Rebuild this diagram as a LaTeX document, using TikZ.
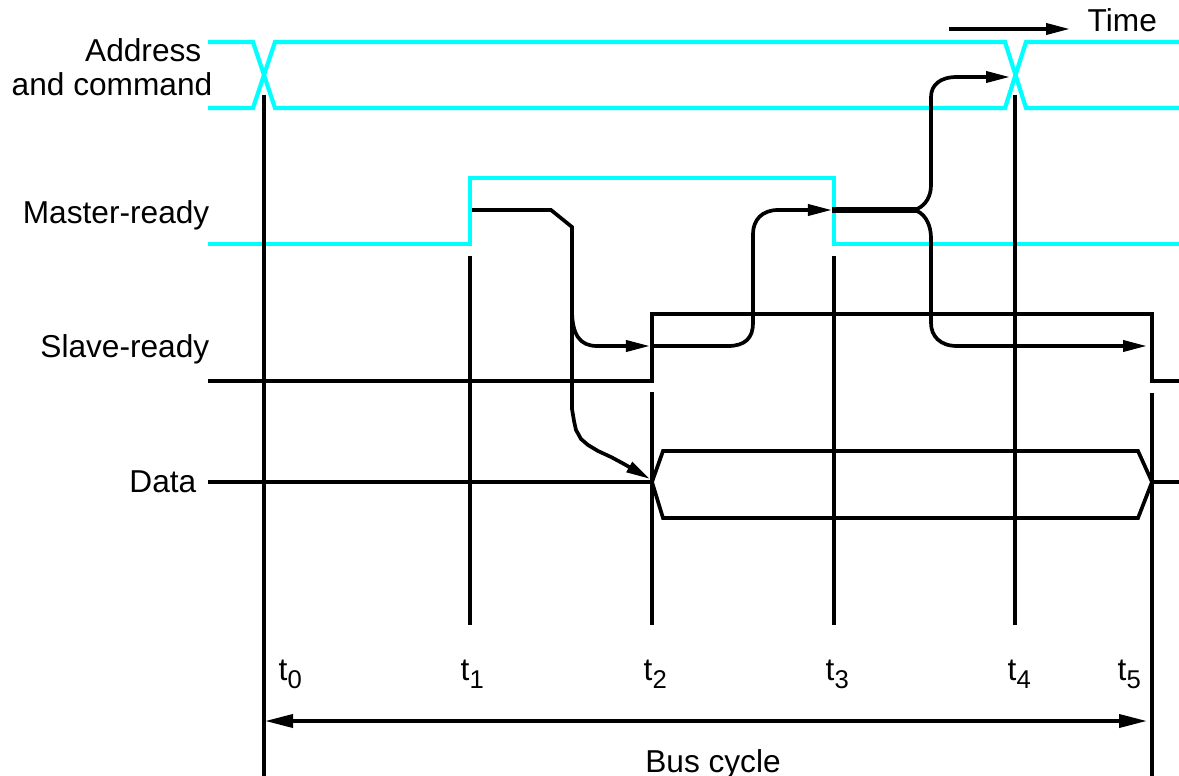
\documentclass[tikz,border=0pt]{standalone}
\usepackage{fontspec}
\setmainfont{Liberation Sans}
\usepackage{tikz}
\usetikzlibrary{arrows.meta}

\definecolor{sigcyan}{RGB}{0,255,255}
\newcommand{\tlabel}[1]{t\raisebox{-2.3pt}{\fontsize{7.3}{8}\selectfont #1}}

\begin{document}
\begin{tikzpicture}[x=0.01cm, y=-0.01cm,
    font=\fontsize{9}{10}\selectfont,
    every node/.style={inner sep=0pt},
    bus/.style={sigcyan, line width=1.2pt},
    wire/.style={black, line width=1.05pt},
    cause/.style={wire, -{Triangle[length=2.4mm,width=1.1mm]}},
    span/.style={wire, {Triangle[length=2.8mm,width=1.3mm]}-{Triangle[length=2.8mm,width=1.3mm]}}]

        \useasboundingbox (0,0) rectangle (1179,776);

        %Signal names
        \node [anchor=base east] (addr) at (202,62) {Address};
        \node [anchor=base east] (cmd) at (213,96) {and command};
        \node [anchor=base east] (mready) at (210,223) {Master-ready};
        \node [anchor=base east] (sready) at (210,357) {Slave-ready};
        \node [anchor=base east] (data) at (197,492) {Data};
        %Time
        \node [anchor=base west] (time) at (1087,32) {Time};
        \coordinate (tfrom) at (949,29);
        \coordinate (tto) at (1070,29);
        \draw [cause] (tfrom) -- (tto);

        %Address and command
        \draw [bus] (208,42) -- (253,42) -- (275,108) -- (1005,108) -- (1026,42) -- (1179,42);
        \draw [bus] (208,108) -- (253,108) -- (275,42) -- (1005,42) -- (1026,108) -- (1179,108);
        %Master-ready
        \draw [bus] (208,244) -- (470,244) -- (470,178) -- (834,178) -- (834,244) -- (1179,244);
        %Slave-ready
        \draw [wire] (208,381) -- (652,381) -- (652,314) -- (1152,314) -- (1152,381) -- (1179,381);
        %Data
        \draw [wire] (208,482) -- (652,482);
        \draw [wire] (652,482) -- (663,451) -- (1138,451) -- (1152,482) -- (1138,518) -- (663,518) -- cycle;
        \draw [wire] (1152,482) -- (1179,482);

        %Time marks
        \draw [wire] (264,95) -- (264,776);   %t0
        \draw [wire] (470,256) -- (470,625);  %t1
        \draw [wire] (652,392) -- (652,625);  %t2
        \draw [wire] (834,256) -- (834,625);  %t3
        \draw [wire] (1015,95) -- (1015,625); %t4
        \draw [wire] (1152,393) -- (1152,776); %t5
        \node [anchor=base west] (t0) at (278,680) {\tlabel{0}};
        \node [anchor=base west] (t1) at (460,680) {\tlabel{1}};
        \node [anchor=base west] (t2) at (643,680) {\tlabel{2}};
        \node [anchor=base west] (t3) at (825,680) {\tlabel{3}};
        \node [anchor=base west] (t4) at (1007,680) {\tlabel{4}};
        \node [anchor=base west] (t5) at (1117,680) {\tlabel{5}};

        %Bus cycle
        \coordinate (start) at (265,721);
        \coordinate (stop) at (1147,721);
        \draw [span] (start) -- (stop);
        \node [anchor=base] (cycle) at (713,772) {Bus cycle};

        %Handshake
        \draw [cause] (472,210) -- (551,210) -- (572,227) -- (572,310)
          .. controls (572,335) and (580,346) .. (597,346) -- (650,346);
        \draw [cause] (572,300) -- (572,409) -- (574,421) -- (576,430) -- (581,439)
          -- (588,445) -- (598,451) -- (611,457) -- (624,464) -- (650,479);
        \draw [cause] (652,346) -- (728,346) .. controls (745,346) and (753,338) .. (753,323)
          -- (753,234) .. controls (753,220) and (762,210) .. (778,210) -- (832,210);
        \draw [cause] (832,209) -- (917,209) .. controls (926,205) and (931,196) .. (931,185)
          -- (931,97) .. controls (931,85) and (940,77) .. (957,77) -- (1010,77);
        \draw [cause] (832,211) -- (917,211) .. controls (926,215) and (931,226) .. (931,238)
          -- (931,323) .. controls (931,336) and (940,346) .. (957,346) -- (1147,346);
\end{tikzpicture}
\end{document}
